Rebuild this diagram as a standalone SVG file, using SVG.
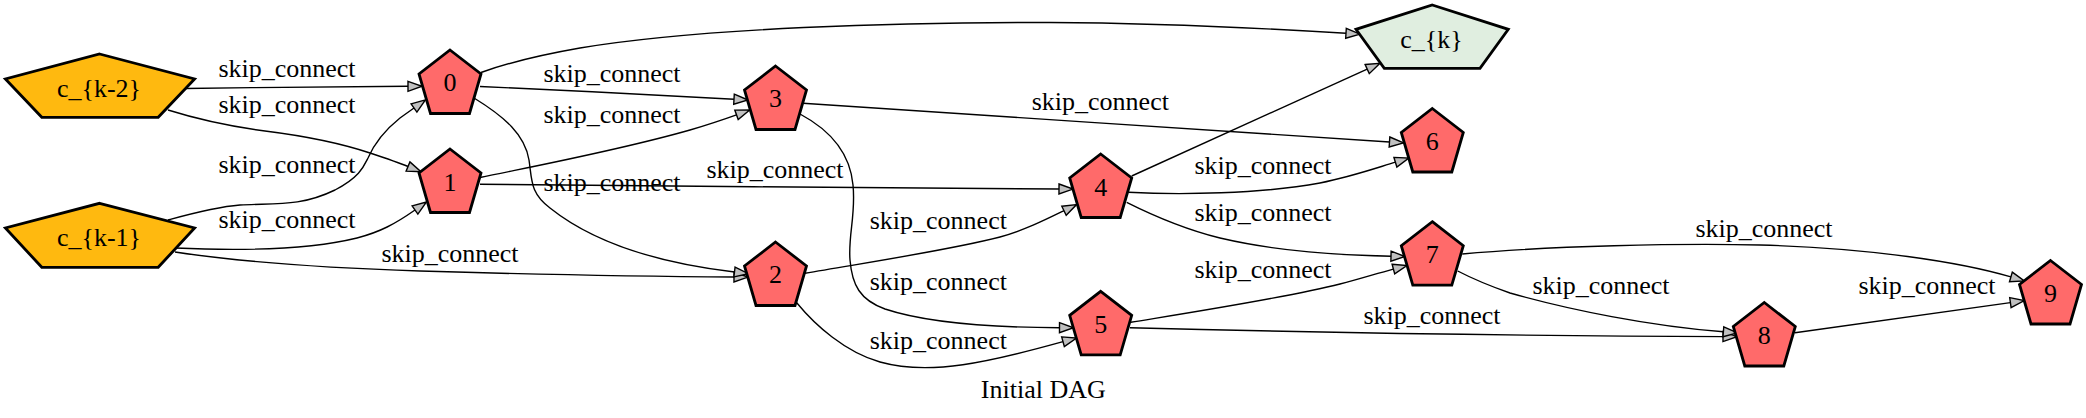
<svg xmlns="http://www.w3.org/2000/svg" width="2086" height="418" viewBox="0 0 2086 418">
<style>
text{font-family:"Liberation Serif","Times New Roman",serif;font-size:26px;fill:#000;text-anchor:middle}
.n{stroke:#000;stroke-width:2.8;stroke-linejoin:miter}
.red{fill:#ff6a6a}
.gold{fill:#ffb90f}
.green{fill:#e0eee0}
.e path{fill:none;stroke:#000;stroke-width:1.4;marker-end:url(#arr)}
</style>
<defs>
<marker id="arr" markerUnits="userSpaceOnUse" viewBox="-1 -6 16 12" markerWidth="16" markerHeight="12" refX="0" refY="0" orient="auto" overflow="visible">
<path d="M0,-5 L14,0 L0,5 Z" fill="#c0c0c0" stroke="#000" stroke-width="1.4"/>
</marker>
<polygon id="pent" points="0,-32 31,-8 19.5,31.5 -19.5,31.5 -31,-8"/>
</defs>
<rect width="2086" height="418" fill="#fff"/>
<g id="edges" class="e">
<path d="M185,88.5 C260,87.5 340,86.5 408,86.3"/>
<path d="M168,110 C200,120 235,127 265,131 C305,136 340,143 370,153 C385,158 397,162 408,166.5"/>
<path d="M168,220 C190,214 215,207 240,205 C275,203 300,207 335,190 C360,177 364,166 368,158 C375,142 385,130 400,118 L414,108"/>
<path d="M175,248 C220,250 300,252 357,238 C380,232 395,224 415,210"/>
<path d="M175,252 C240,262 330,268 420,271 C520,274 640,276.5 734,277"/>
<path d="M480,86.5 C560,90 660,95 734,99.2"/>
<path d="M474,98 C505,117 525,135 529,160 C532,180 530,193 550,208 C590,240 650,262 734.5,272"/>
<path d="M481,72.5 C510,62 540,55 580,48 C700,28 900,22 1050,22.5 C1150,23 1260,28 1346,33.3"/>
<path d="M480,177.5 C540,165 620,150 690,130 C710,124 722,120 736.5,114.8"/>
<path d="M480,184.3 C650,186 900,188 1059,189"/>
<path d="M803,103.3 C950,113 1250,133 1389.5,142"/>
<path d="M800,114 C830,130 850,152 853,185 C856,215 848,235 850,260 C852,285 860,300 885,309 C930,324 1000,327.5 1059.5,327.7"/>
<path d="M805,273.3 C870,262 950,250 1000,237 C1025,230 1045,220 1064,210.7"/>
<path d="M796.7,302.7 C815,325 845,352 880,362 C930,376 990,362 1063,341.7"/>
<path d="M1131.7,176 L1367.2,69.1"/>
<path d="M1128.3,192.3 C1180,195 1260,194 1320,183 C1350,177 1370,170 1395.4,162.2"/>
<path d="M1126.7,202.3 C1150,214 1180,228 1220,238 C1280,252 1340,255 1391,256.2"/>
<path d="M1130.7,322.3 C1200,311 1290,297 1340,284 C1360,279 1375,274 1393.4,269.1"/>
<path d="M1130,327.7 C1300,332 1550,336 1723,336.6"/>
<path d="M1457.7,271 C1475,280 1490,286 1510,293 C1570,310 1650,326 1723.4,331.8"/>
<path d="M1462.3,254 C1550,246 1680,243 1760,245 C1870,248 1960,262 2010.9,276.9"/>
<path d="M1795,332.7 L2010.4,302.6"/>
</g>
<g id="edge-labels">
<text x="287" y="77">skip_connect</text>
<text x="287" y="113">skip_connect</text>
<text x="287" y="173">skip_connect</text>
<text x="287" y="228">skip_connect</text>
<text x="450" y="261.5">skip_connect</text>
<text x="612" y="82">skip_connect</text>
<text x="612" y="123">skip_connect</text>
<text x="612" y="190.5">skip_connect</text>
<text x="775" y="178">skip_connect</text>
<text x="1100.3" y="110">skip_connect</text>
<text x="938.3" y="229">skip_connect</text>
<text x="938.3" y="290">skip_connect</text>
<text x="938.3" y="349">skip_connect</text>
<text x="1263" y="174">skip_connect</text>
<text x="1263" y="220.5">skip_connect</text>
<text x="1263" y="278">skip_connect</text>
<text x="1432" y="324">skip_connect</text>
<text x="1601" y="294">skip_connect</text>
<text x="1764" y="237">skip_connect</text>
<text x="1927" y="294">skip_connect</text>
</g>
<g id="node-ck2"><polygon class="n gold" points="99.6,54 194.6,79 158.2,117.3 41.8,117.3 5.4,79"/><text x="99" y="96.5">c_{k-2}</text></g>
<g id="node-ck1"><polygon class="n gold" points="99.6,203.3 194.6,228 158.2,267.3 41.8,267.3 5.4,228"/><text x="99" y="246">c_{k-1}</text></g>
<g id="node-ck"><polygon class="n green" points="1432.3,5 1508.3,29.3 1480,68.3 1384.3,68.3 1356,29.3"/><text x="1431.5" y="47.5">c_{k}</text></g>
<g id="node-0"><use href="#pent" class="n red" x="450" y="82"/><text x="450" y="91">0</text></g>
<g id="node-1"><use href="#pent" class="n red" x="450" y="181"/><text x="450" y="190.5">1</text></g>
<g id="node-3"><use href="#pent" class="n red" x="775.5" y="98"/><text x="775.5" y="107">3</text></g>
<g id="node-2"><use href="#pent" class="n red" x="775.5" y="274"/><text x="775.5" y="283">2</text></g>
<g id="node-4"><use href="#pent" class="n red" x="1100.7" y="186"/><text x="1100.7" y="195.5">4</text></g>
<g id="node-5"><use href="#pent" class="n red" x="1100.7" y="323.3"/><text x="1100.7" y="333">5</text></g>
<g id="node-6"><use href="#pent" class="n red" x="1432.3" y="140.5"/><text x="1432.3" y="150">6</text></g>
<g id="node-7"><use href="#pent" class="n red" x="1432.3" y="253.7"/><text x="1432.3" y="263">7</text></g>
<g id="node-8"><use href="#pent" class="n red" x="1764.3" y="334.5"/><text x="1764.3" y="344">8</text></g>
<g id="node-9"><use href="#pent" class="n red" x="2050.5" y="292.5"/><text x="2050.5" y="302">9</text></g>
<text x="1043.3" y="398.3">Initial DAG</text>
</svg>
